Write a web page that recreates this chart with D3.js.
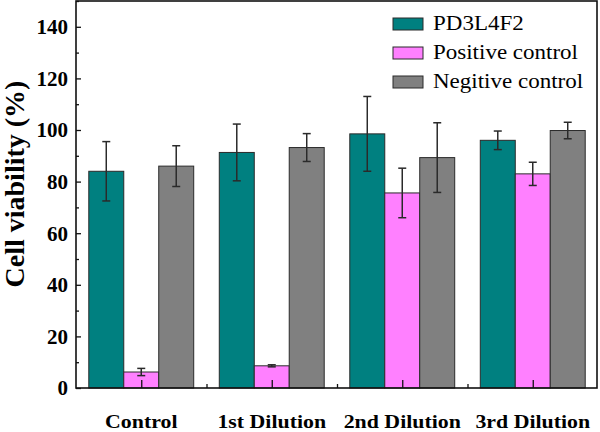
<!DOCTYPE html>
<html>
<head>
<meta charset="utf-8">
<script src="https://cdn.jsdelivr.net/npm/d3@7"></script>
<style>
  body { margin: 0; background: #fff; }
  svg { display: block; }
</style>
</head>
<body>
<div id="chart"></div>
<script>
// Data
const categories = ['Control', '1st Dilution', '2nd Dilution', '3rd Dilution'];
const seriesNames = ['PD3L4F2', 'Positive control', 'Negitive control'];
const seriesColors = ['#008080', '#ff80ff', '#808080'];
const pd3l4f2 = [84, 91.3, 98.5, 96];
const pd3l4f2Err = [11.5, 11, 14.5, 3.6];
const positive = [6.2, 8.6, 75.6, 83];
const positiveErr = [1.4, 0.4, 9.6, 4.5];
const negative = [86, 93.2, 89.3, 99.8];
const negativeErr = [7.9, 5.4, 13.5, 3.2];
const yTicks = [0, 20, 40, 60, 80, 100, 120, 140];

const values = [pd3l4f2, positive, negative];
const errors = [pd3l4f2Err, positiveErr, negativeErr];

const width = 600;
const height = 432;
const plot = { left: 76, right: 597, top: 1, bottom: 388 };
const serif = '"Liberation Serif"';

const svg = d3.select('#chart').append('svg')
    .attr('width', width)
    .attr('height', height);

// Scales: x is numeric so groups sit at 1..4
const xScale = d3.scaleLinear().domain([0.5, 4.5]).range([plot.left, plot.left + 522]);
const yScale = d3.scaleLinear().domain([0, 150]).range([plot.bottom, plot.top]);
const barW = 0.268;
const barPx = xScale(barW) - xScale(0);

// Bars
values.forEach((series, s) => {
    svg.append('g').selectAll('rect')
        .data(series)
        .join('rect')
        .attr('x', (d, i) => xScale(i + 1 + (s - 1) * barW) - barPx / 2)
        .attr('y', d => yScale(d))
        .attr('width', barPx)
        .attr('height', d => yScale(0) - yScale(d))
        .attr('fill', seriesColors[s])
        .attr('stroke', '#2a2a2a')
        .attr('stroke-width', 1);
});

// Error bars
values.forEach((series, s) => {
    const g = svg.append('g').attr('stroke', '#2a2a2a').attr('stroke-width', 1.5);
    series.forEach((d, i) => {
        const cx = xScale(i + 1 + (s - 1) * barW);
        const hi = yScale(d + errors[s][i]);
        const lo = yScale(d - errors[s][i]);
        g.append('line').attr('x1', cx).attr('x2', cx).attr('y1', hi).attr('y2', lo);
        g.append('line').attr('x1', cx - 4).attr('x2', cx + 4).attr('y1', hi).attr('y2', hi);
        g.append('line').attr('x1', cx - 4).attr('x2', cx + 4).attr('y1', lo).attr('y2', lo);
    });
});

// Frame
svg.append('rect')
    .attr('x', plot.left)
    .attr('y', plot.top)
    .attr('width', plot.right - plot.left)
    .attr('height', plot.bottom - plot.top)
    .attr('fill', 'none')
    .attr('stroke', '#111')
    .attr('stroke-width', 1.6);

// Y axis: ticks point inward
const yAxis = svg.append('g')
    .attr('transform', `translate(${plot.left},0)`)
    .call(d3.axisRight(yScale).tickValues(yTicks).tickSize(5).tickFormat(''));
yAxis.select('.domain').remove();
svg.append('g')
    .attr('transform', `translate(${plot.left},0)`)
    .call(d3.axisRight(yScale).tickValues(yTicks.map(t => t + 10)).tickSize(3).tickFormat(''))
    .select('.domain').remove();

// X axis ticks: major at groups, minor between
const xAxisG = svg.append('g')
    .attr('transform', `translate(0,${plot.bottom})`)
    .call(d3.axisTop(xScale).tickValues([1, 2, 3, 4]).tickSize(8).tickFormat(''));
xAxisG.select('.domain').remove();
svg.append('g')
    .attr('transform', `translate(0,${plot.bottom})`)
    .call(d3.axisTop(xScale).tickValues([1.5, 2.5, 3.5]).tickSize(4).tickFormat(''))
    .select('.domain').remove();
svg.selectAll('.tick line').attr('stroke', '#111').attr('stroke-width', 1.3);

// Y tick labels
svg.append('g').selectAll('text')
    .data(yTicks)
    .join('text')
    .attr('x', plot.left - 8)
    .attr('y', d => yScale(d))
    .attr('dy', '0.35em')
    .attr('text-anchor', 'end')
    .style('font-family', serif)
    .style('font-weight', 'bold')
    .style('font-size', '21px')
    .text(d => d);

// X labels (slightly widened like the source image)
svg.append('g').selectAll('text')
    .data(categories)
    .join('text')
    .attr('transform', (d, i) => `translate(${xScale(i + 1)},428) scale(1.15,1)`)
    .attr('text-anchor', 'middle')
    .style('font-family', serif)
    .style('font-weight', 'bold')
    .style('font-size', '19px')
    .text(d => d);

// Y axis title
svg.append('text')
    .attr('transform', 'translate(24,184) rotate(-90)')
    .attr('text-anchor', 'middle')
    .style('font-family', serif)
    .style('font-weight', 'bold')
    .style('font-size', '28px')
    .text('Cell viability (%)');

// Legend
const legend = svg.append('g').attr('transform', 'translate(393,18)');
seriesNames.forEach((name, i) => {
    const row = legend.append('g').attr('transform', `translate(0,${i * 29})`);
    row.append('rect')
        .attr('width', 30)
        .attr('height', 12)
        .attr('fill', seriesColors[i])
        .attr('stroke', '#2a2a2a')
        .attr('stroke-width', 1);
    row.append('text')
        .attr('transform', 'translate(40,12) scale(1.15,1)')
        .style('font-family', serif)
        .style('font-size', '20px')
        .text(name);
});
</script>
</body>
</html>
